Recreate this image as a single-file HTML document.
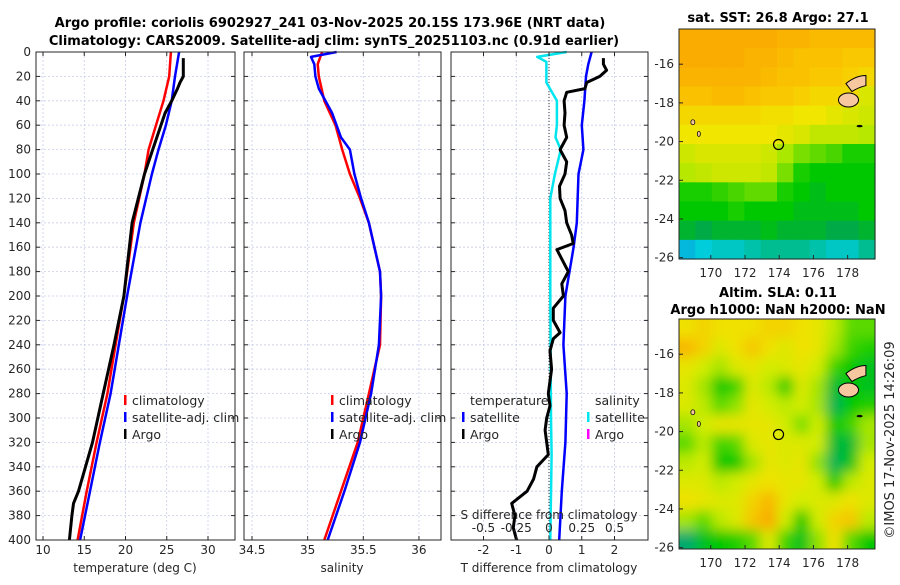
<!DOCTYPE html>
<html><head><meta charset="utf-8"><style>
body{margin:0;background:#fff;width:900px;height:580px;overflow:hidden}
svg text{font-family:"DejaVu Sans","Liberation Sans",sans-serif;fill:#262626}
</style></head><body>
<svg id="c" width="900" height="580" xmlns="http://www.w3.org/2000/svg">
<defs>
<clipPath id="m2clip"><rect x="679" y="319" width="196" height="230"/></clipPath>
<filter id="blur"><feGaussianBlur stdDeviation="6"/></filter>
</defs>
<text x="330" y="27" text-anchor="middle" font-size="13" font-weight="bold" style="fill:#000">Argo profile: coriolis 6902927_241 03-Nov-2025 20.15S 173.96E (NRT data)</text>
<text x="334" y="45" text-anchor="middle" font-size="13" font-weight="bold" style="fill:#000">Climatology: CARS2009. Satellite-adj clim: synTS_20251103.nc (0.91d earlier)</text>
<text x="778" y="22" text-anchor="middle" font-size="13" font-weight="bold" style="fill:#000">sat. SST: 26.8 Argo: 27.1</text>
<text x="778" y="297" text-anchor="middle" font-size="13" font-weight="bold" style="fill:#000">Altim. SLA: 0.11</text>
<text x="778" y="314" text-anchor="middle" font-size="13" font-weight="bold" style="fill:#000">Argo h1000: NaN h2000: NaN</text>
<text transform="translate(894,440) rotate(-90)" text-anchor="middle" font-size="13">©IMOS 17-Nov-2025 14:26:09</text>
<g id="g"></g>
</svg>
<script>
// ---- data ----
const depthTicks=[0,20,40,60,80,100,120,140,160,180,200,220,240,260,280,300,320,340,360,380,400];
const tempTicks=[10,15,20,25,30];
const salTicks=[34.5,35,35.5,36];
const tdTicks=[-2,-1,0,1,2];
const sdTicks=[-0.5,-0.25,0,0.25,0.5];
const sdTickLabels=["-0.5","-0.25","0","0.25","0.5"];
const tClimDepth=[0,20,40,60,80,100,140,200,240,280,320,360,400];
const tClim=[25.5,25.3,24.6,23.7,22.8,22.3,21.0,19.8,18.8,17.8,16.5,15.3,14.2];
const tSatDepth=[0,20,40,60,80,100,140,200,280,320,360,400];
const tSat=[26.5,26.0,25.6,24.9,24.0,23.2,21.8,20.2,18.2,16.9,15.7,14.5];
const tArgoDepth=[5,20,25,30,40,50,80,100,140,200,240,280,320,360,370,380,400];
const tArgo=[27.0,27.0,26.6,26.3,25.6,24.8,23.3,22.3,20.8,19.8,18.6,17.3,16.0,14.3,13.7,13.5,13.2];
const sClimDepth=[0,10,20,40,60,80,100,120,140,160,180,200,240,280,320,360,400];
const sClim=[35.13,35.09,35.10,35.15,35.25,35.31,35.38,35.47,35.55,35.60,35.65,35.66,35.65,35.55,35.45,35.30,35.15];
const sSatDepth=[0,4,10,20,30,50,70,80,100,120,140,180,200,240,280,320,360,400];
const sSat=[35.26,35.03,35.06,35.07,35.10,35.22,35.30,35.38,35.42,35.48,35.55,35.65,35.66,35.64,35.57,35.47,35.33,35.18];
const sdSatDepth=[0,4,8,25,40,60,70,80,100,120,200,300,330,400];
const sdSat=[0.135,-0.09,-0.02,-0.02,0.06,0.06,0.05,0.09,0.045,0.01,0.01,0.015,0.02,0.01];
const tdSatDepth=[0,10,20,40,60,80,100,140,160,200,240,280,320,360,400];
const tdSat=[1.3,1.2,1.13,1.08,1.0,1.05,0.9,0.85,0.75,0.5,0.44,0.54,0.5,0.39,0.31];
const tdArgoDepth=[5,10,15,20,25,30,33,40,50,60,70,80,90,100,110,120,130,140,150,157,162,180,190,200,210,220,230,235,245,260,280,290,300,310,320,330,340,350,360,370,380,390,400];
const tdArgo=[1.66,1.66,1.76,1.55,1.15,1.1,0.54,0.46,0.49,0.46,0.54,0.34,0.54,0.49,0.32,0.34,0.49,0.54,0.69,0.74,0.24,0.59,0.39,0.44,0.13,0.13,0.34,0.13,0.03,0.08,-0.02,0.03,-0.07,-0.12,-0.07,-0.02,-0.37,-0.47,-0.67,-1.14,-1.04,-1.09,-0.99];
const lonTicks=[170,172,174,176,178];
const latTicks=[-16,-18,-20,-22,-24,-26];
const sstGrid=[
[27.6,27.6,27.6,27.6,27.6,27.6,27.5,27.5,27.4,27.4,27.4,27.4],
[27.6,27.6,27.7,27.6,27.5,27.5,27.4,27.3,27.3,27.3,27.2,27.2],
[27.5,27.5,27.5,27.5,27.5,27.4,27.3,27.3,27.2,27.2,27.1,27.0],
[27.3,27.3,27.4,27.4,27.3,27.2,27.2,27.1,27.0,27.0,27.0,26.6],
[27.0,27.0,27.0,27.0,27.0,26.9,26.9,26.8,26.8,26.7,26.6,26.5],
[26.8,26.8,26.8,26.8,26.8,26.8,26.7,26.6,26.4,26.4,26.4,26.3],
[26.5,26.6,26.6,26.6,26.6,26.5,26.2,26.0,25.9,25.8,25.6,25.6],
[26.3,26.4,26.5,26.5,26.5,26.4,26.0,25.6,25.5,25.5,25.5,25.5],
[25.6,25.6,25.7,25.8,25.9,25.9,25.6,25.5,25.4,25.5,25.5,25.5],
[25.5,25.5,25.5,25.6,25.5,25.5,25.5,25.4,25.4,25.4,25.4,25.5],
[25.3,25.2,25.3,25.3,25.3,25.4,25.3,25.3,25.3,25.2,25.2,25.3],
[24.5,24.6,24.7,24.7,24.8,24.9,24.9,24.9,24.8,24.7,24.7,24.9]];
const slaGrid=[
[0.5,0.6,0.5,0.5,0.5,0.6,0.6,0.5,0.4,0.1,-0.3,-0.3],
[0.8,0.6,0.3,0.5,0.7,0.5,0.3,0.5,0.4,0.0,-0.4,-0.5],
[0.4,0.2,0,0.3,0.4,0.2,0.3,0.4,0.2,-0.4,-0.6,-0.7],
[0.3,0,-0.6,-0.4,0.3,0.1,-0.5,0.3,0,-0.8,-0.6,-0.7],
[0.3,0.1,-0.3,-0.1,0.4,0.2,0.1,0.2,0.0,-0.9,-0.6,-0.5],
[0,0.2,0.4,0.4,0.4,0.4,0.2,-0.2,0.2,-0.6,-0.4,0],
[-0.3,0.1,-0.4,-0.3,0.3,0.4,0.3,0.3,0.2,-0.8,-0.8,0],
[0.1,0.2,-0.6,-0.6,0,0.4,0.3,0.4,-0.1,-0.9,-0.7,0.2],
[0.3,0.3,0.1,0.2,0.4,0.5,0.4,0.4,0.2,-0.6,0.1,0.3],
[0.5,0.4,0.3,0.3,0.6,0.8,0.4,0.2,0.3,0.3,0.5,0.3],
[0,-0.3,0.1,0.3,0.7,0.9,0.2,-0.6,0.2,0.6,0.7,0.1],
[-1,-0.7,-0.6,-0.5,-0.3,0.3,-0.4,-0.7,-0.1,0.5,-0.3,-0.6]];
const argoLon=173.96, argoLat=-20.15;

// ---- drawing ----
const NS="http://www.w3.org/2000/svg";
const G=document.getElementById('g');
function el(t,a,p){const e=document.createElementNS(NS,t);for(const k in a)e.setAttribute(k,a[k]);(p||G).appendChild(e);return e;}
const Y0=52,Y1=540;
const yD=d=>Y0+(d/400)*(Y1-Y0);
const xT=v=>43+(v-10)*8.25;
const xS=v=>252+(v-34.5)*111.3;
const xTD=v=>549+v*32.75;
const xSD=v=>549+v*4*32.75;
const panels=[[36,235],[244,441],[451,648]];

function gridAndAxes(x0,x1,xticks,xf,name){
  depthTicks.forEach(d=>{const l=el('line',{x1:x0,x2:x1,y1:yD(d),y2:yD(d),stroke:'#c8cde8','stroke-width':0.8,'stroke-dasharray':'2,2'});
  });
  xticks.forEach(v=>{const l=el('line',{x1:xf(v),x2:xf(v),y1:Y0,y2:Y1,stroke:'#c8cde8','stroke-width':0.8,'stroke-dasharray':'2,2'});
  });
}
function frame(x0,x1,name){
  const r=el('rect',{x:x0,y:Y0,width:x1-x0,height:Y1-Y0,fill:'none',stroke:'#262626','stroke-width':1});
  
}
function line(ds,vs,xf,color,w,name){
  const p=ds.map((d,i)=>xf(vs[i]).toFixed(1)+','+yD(d).toFixed(1)).join(' ');
  const e=el('polyline',{points:p,fill:'none',stroke:color,'stroke-width':w,'stroke-linejoin':'round'});
  
}
function txt(x,y,s,size,anchor,name,extra){
  const t=el('text',Object.assign({x:x,y:y,'font-size':size,'text-anchor':anchor||'start'},extra||{}));t.textContent=s;
  return t;
}
function xTicks(x0,x1,ticks,xf,labels,name,ly){
  ticks.forEach((v,i)=>{const x=xf(v);
    el('line',{x1:x,x2:x,y1:Y1,y2:Y1-4,stroke:'#262626'});el('line',{x1:x,x2:x,y1:Y0,y2:Y0+4,stroke:'#262626'});
    txt(x,ly||554,labels?labels[i]:String(v),12,'middle',name+'-tick-label');});
  depthTicks.forEach(d=>{el('line',{x1:x0,x2:x0+4,y1:yD(d),y2:yD(d),stroke:'#262626'});el('line',{x1:x1,x2:x1-4,y1:yD(d),y2:yD(d),stroke:'#262626'});});
}
// panel 1
gridAndAxes(36,235,tempTicks,xT,'temp');
line(tClimDepth,tClim,xT,'#ff0000',2.5,'temp-climatology-line');
line(tSatDepth,tSat,xT,'#0000ff',2.5,'temp-satellite-line');
line(tArgoDepth,tArgo,xT,'#000000',3,'temp-argo-line');
frame(36,235,'temp-panel');xTicks(36,235,tempTicks,xT,null,'temp');
depthTicks.forEach(d=>txt(31,yD(d)+4,String(d),12,'end','depth-tick-label'));
txt(135,572,'temperature (deg C)',12,'middle','temp-x-axis-title');
// panel 2
gridAndAxes(244,441,salTicks,xS,'sal');
line(sClimDepth,sClim,xS,'#ff0000',2.5,'sal-climatology-line');
line(sSatDepth,sSat,xS,'#0000ff',2.5,'sal-satellite-line');
frame(244,441,'sal-panel');xTicks(244,441,salTicks,xS,null,'sal');
txt(342,572,'salinity',12,'middle','sal-x-axis-title');
// panel 3
gridAndAxes(451,648,tdTicks,xTD,'diff');
el('line',{x1:549,x2:549,y1:Y0,y2:Y1,stroke:'#333','stroke-width':1,'stroke-dasharray':'1,2'});
line(sdSatDepth,sdSat,xSD,'#00e5ee',2.5,'sal-diff-satellite-line');
line(tdSatDepth,tdSat,xTD,'#0000ff',2.5,'temp-diff-satellite-line');
line(tdArgoDepth,tdArgo,xTD,'#000000',3,'temp-diff-argo-line');
frame(451,648,'diff-panel');xTicks(451,648,tdTicks,xTD,null,'tdiff');
sdTicks.forEach((v,i)=>txt(xSD(v),532,sdTickLabels[i],12,'middle','sdiff-tick-label'));
txt(549,519,'S difference from climatology',12,'middle','sdiff-axis-title');
txt(549,572,'T difference from climatology',12,'middle','tdiff-x-axis-title');
// legends
function legItem(mx,y,color,label,name){
  const m=el('rect',{x:mx,y:y-10,width:2.5,height:10,fill:color});
  txt(mx+8,y,label,12.5,'start',name);
}
legItem(124,405,'#ff0000','climatology','legend-climatology');
legItem(124,422,'#0000ff','satellite-adj. clim','legend-satellite-adj');
legItem(124,439,'#000000','Argo','legend-argo');
legItem(331,405,'#ff0000','climatology','legend2-climatology');
legItem(331,422,'#0000ff','satellite-adj. clim','legend2-satellite-adj');
legItem(331,439,'#000000','Argo','legend2-argo');
txt(470,405,'temperature',12.5,'start','legend3-temperature-header');
legItem(462,422,'#0000ff','satellite','legend3-t-satellite');
legItem(462,439,'#000000','Argo','legend3-t-argo');
txt(595,405,'salinity',12.5,'start','legend3-salinity-header');
legItem(587,422,'#00e5ee','satellite','legend3-s-satellite');
legItem(587,439,'#ff00ff','Argo','legend3-s-argo');

// maps
const MX0=679,MX1=875,LON0=168.14,LON1=179.6,LAT0=-14.18,LAT1=-26.07;
function mapX(lon){return MX0+(lon-LON0)/(LON1-LON0)*(MX1-MX0);}
function mapY(lat,top,h){return top+(lat-LAT0)/(LAT1-LAT0)*h;}
function interp(stops,v){
  if(v<=stops[0][0])return stops[0][1];
  for(let i=1;i<stops.length;i++){if(v<=stops[i][0]){const a=stops[i-1],b=stops[i],t=(v-a[0])/(b[0]-a[0]);
    return 'rgb('+a[1].map((c,k)=>Math.round(c+(b[1][k]-c)*t)).join(',')+')';}}
  return 'rgb('+stops[stops.length-1][1].join(',')+')';
}
function toRgb(s){return typeof s==='string'?s:'rgb('+s.join(',')+')';}
const sstStops=[[24.0,[20,80,220]],[24.6,[0,205,220]],[25.2,[0,170,70]],[25.5,[0,200,0]],[26.2,[170,232,0]],[26.8,[240,230,0]],[27.2,[250,200,0]],[27.6,[250,172,0]]];
const slaStops=[[-1,[0,170,110]],[-0.6,[0,200,0]],[-0.2,[120,222,0]],[0.2,[210,236,0]],[0.5,[240,225,0]],[0.9,[250,170,0]]];
function drawMap(top,h,grid,stops,name,blur){
  const grp=el('g',blur?{'clip-path':'url(#m2clip)'}:{});
  const inner=el('g',blur?{filter:'url(#blur)'}:{},grp);
  const rows=grid.length,cols=grid[0].length,cw=(MX1-MX0)/cols,ch=h/rows,pad=blur?14:0;
  grid.forEach((row,r)=>row.forEach((v,c)=>{
    let x=MX0+c*cw,y=top+r*ch,w=cw+0.6,hh=ch+0.6;
    if(blur){if(c===0){x-=pad;w+=pad;}if(c===cols-1)w+=pad;if(r===0){y-=pad;hh+=pad;}if(r===rows-1)hh+=pad;}
    const cell=el('rect',{x:x,y:y,width:w,height:hh,fill:toRgb(interp(stops,v))},inner);
    
  }));
  // Fiji
  const f1=el('path',{d:`M${mapX(177.9)} ${mapY(-17.0,top,h)} q10 -8 20 -8 l0 10 q-8 2 -14 6 z`,fill:'#f7c7a0',stroke:'#000','stroke-width':1});
  
  const f2=el('ellipse',{cx:mapX(178.05),cy:mapY(-17.85,top,h),rx:10,ry:7,fill:'#f7c7a0',stroke:'#000','stroke-width':1});
  
  el('ellipse',{cx:mapX(168.95),cy:mapY(-19.0,top,h),rx:2,ry:2.5,fill:'#f7c7a0',stroke:'#000','stroke-width':0.8});
  el('ellipse',{cx:mapX(169.3),cy:mapY(-19.6,top,h),rx:1.5,ry:2.5,fill:'#f7c7a0',stroke:'#000','stroke-width':0.8});
  el('ellipse',{cx:mapX(178.7),cy:mapY(-19.2,top,h),rx:3,ry:1.2,fill:'#000'});
  const c=el('circle',{cx:mapX(argoLon),cy:mapY(argoLat,top,h),r:5,fill:'none',stroke:'#000','stroke-width':1.2});
  
  const fr=el('rect',{x:MX0,y:top,width:MX1-MX0,height:h,fill:'none',stroke:'#262626','stroke-width':1});
  
  latTicks.forEach(l=>{const y=mapY(l,top,h);el('line',{x1:MX0,x2:MX0+4,y1:y,y2:y,stroke:'#262626'});
    txt(MX0-5,y+4,String(l),12,'end',name+'-lat-label');});
  lonTicks.forEach(l=>{const x=mapX(l);el('line',{x1:x,x2:x,y1:top+h,y2:top+h-4,stroke:'#262626'});
    txt(x,top+h+18,String(l),12,'middle',name+'-lon-label');});
}
drawMap(29,230,sstGrid,sstStops,'sst-map',false);
drawMap(319,230,slaGrid,slaStops,'sla-map',true);
</script>
</body></html>
